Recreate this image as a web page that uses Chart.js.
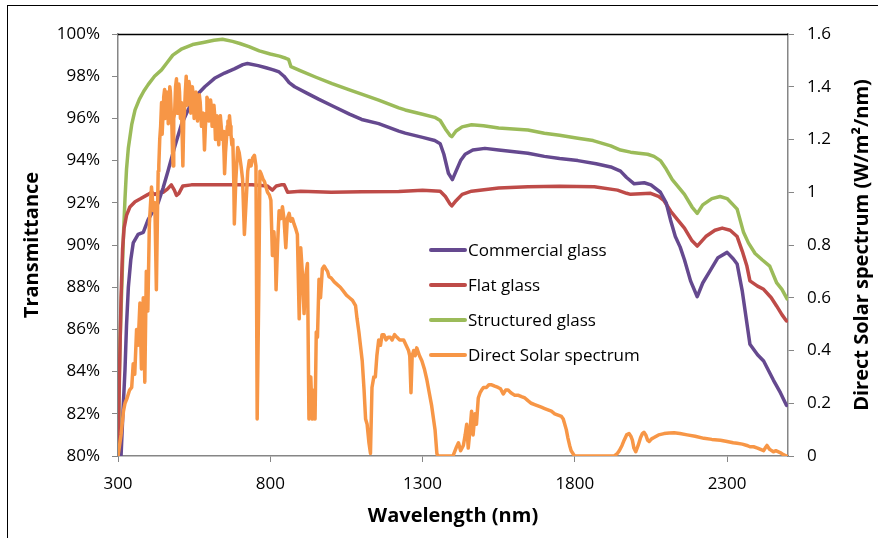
<!DOCTYPE html>
<html>
<head>
<meta charset="utf-8">
<script src="https://cdn.jsdelivr.net/npm/chart.js@4.4.0/dist/chart.umd.min.js"></script>
<style>
  html, body { margin: 0; padding: 0; background: #fff; }
</style>
</head>
<body>
<canvas id="transChart" width="878" height="538"></canvas>
<script>
// x axis tick labels (nm)
const xTicks = [300, 800, 1300, 1800, 2300];

// Commercial glass transmittance (%)
const commercialWl = [310, 316, 323, 328, 334, 342, 350, 366, 383, 399, 415, 432, 448, 464, 485, 508, 530, 552, 585, 617, 650, 682, 710, 725, 760, 786, 810, 829, 845, 862, 880, 920, 960, 1003, 1060, 1100, 1156, 1222, 1243, 1300, 1340, 1358, 1370, 1385, 1398, 1410, 1425, 1440, 1465, 1505, 1550, 1646, 1700, 1750, 1810, 1870, 1918, 1950, 1970, 1995, 2028, 2050, 2081, 2100, 2114, 2130, 2146, 2160, 2180, 2202, 2220, 2245, 2270, 2300, 2320, 2333, 2350, 2375, 2400, 2420, 2452, 2475, 2495];
const commercialT = [80, 82, 84.1, 86.2, 88.0, 89.3, 90.1, 90.5, 90.6, 91.2, 91.6, 92.0, 92.7, 93.5, 94.6, 95.7, 96.4, 97.0, 97.5, 97.9, 98.15, 98.35, 98.55, 98.6, 98.5, 98.4, 98.3, 98.2, 98.0, 97.7, 97.5, 97.2, 96.9, 96.6, 96.2, 95.95, 95.75, 95.4, 95.3, 95.1, 94.95, 94.8, 94.3, 93.4, 93.1, 93.5, 94.0, 94.3, 94.5, 94.58, 94.5, 94.35, 94.2, 94.1, 94.0, 93.85, 93.7, 93.5, 93.2, 92.9, 92.95, 92.85, 92.5, 92.0, 91.2, 90.4, 89.9, 89.3, 88.3, 87.55, 88.2, 88.8, 89.4, 89.65, 89.35, 89.1, 87.8, 85.3, 84.8, 84.5, 83.6, 83.0, 82.4];

// Flat glass transmittance (%)
const flatWl = [300, 305, 310, 315, 320, 328, 339, 356, 375, 399, 410, 421, 435, 448, 462, 475, 485, 492, 500, 513, 541, 600, 676, 740, 790, 807, 820, 835, 846, 857, 900, 1000, 1100, 1222, 1300, 1358, 1375, 1390, 1396, 1410, 1430, 1461, 1550, 1646, 1750, 1864, 1940, 1970, 1983, 2049, 2075, 2093, 2115, 2137, 2160, 2185, 2202, 2230, 2260, 2284, 2310, 2333, 2350, 2365, 2375, 2400, 2420, 2445, 2463, 2480, 2495];
const flatT = [80, 84, 87.5, 89.8, 90.8, 91.4, 91.8, 92.05, 92.2, 92.4, 92.5, 92.4, 92.5, 92.5, 92.65, 92.85, 92.6, 92.35, 92.45, 92.8, 92.85, 92.85, 92.85, 92.85, 92.8, 92.6, 92.8, 92.85, 92.85, 92.5, 92.55, 92.5, 92.52, 92.53, 92.6, 92.55, 92.3, 91.95, 91.85, 92.1, 92.4, 92.55, 92.7, 92.76, 92.78, 92.76, 92.6, 92.45, 92.4, 92.45, 92.3, 92.1, 91.6, 91.2, 90.8, 90.2, 89.95, 90.4, 90.7, 90.8, 90.7, 90.4, 89.7, 89.0, 88.3, 88.05, 87.9, 87.5, 87.1, 86.7, 86.4];

// Structured glass transmittance (%)
const structuredWl = [300, 303, 307, 312, 318, 323, 328, 334, 345, 356, 370, 385, 399, 420, 443, 459, 480, 510, 545, 580, 615, 643, 676, 700, 730, 764, 800, 830, 851, 860, 868, 900, 950, 1003, 1060, 1100, 1156, 1222, 1243, 1300, 1340, 1358, 1375, 1390, 1396, 1410, 1430, 1461, 1500, 1550, 1646, 1700, 1750, 1810, 1860, 1918, 1950, 1983, 2010, 2039, 2060, 2081, 2100, 2120, 2137, 2160, 2185, 2202, 2220, 2250, 2277, 2300, 2320, 2333, 2354, 2370, 2392, 2415, 2440, 2463, 2480, 2497];
const structuredT = [80, 83, 85.5, 87.8, 90.5, 92.2, 93.6, 94.6, 95.7, 96.4, 96.9, 97.3, 97.6, 98.0, 98.3, 98.6, 99.0, 99.3, 99.5, 99.6, 99.7, 99.75, 99.65, 99.55, 99.4, 99.2, 99.05, 98.95, 98.85, 98.8, 98.45, 98.25, 97.95, 97.65, 97.35, 97.15, 96.87, 96.5, 96.4, 96.2, 96.05, 95.9, 95.5, 95.2, 95.13, 95.4, 95.6, 95.7, 95.65, 95.55, 95.45, 95.3, 95.2, 95.06, 94.95, 94.7, 94.5, 94.4, 94.35, 94.3, 94.2, 94.0, 93.6, 93.1, 92.8, 92.4, 91.8, 91.5, 91.9, 92.2, 92.3, 92.2, 91.9, 91.7, 90.6, 90.1, 89.6, 89.3, 89.0, 88.2, 87.9, 87.45];

// Direct solar spectrum (W/m2/nm), right axis
const solarWl = [300, 310, 318, 323, 330, 338, 345, 350, 355, 361, 366, 372, 377, 383, 388, 393, 398, 403, 410, 416, 421, 426,
  430, 432, 434, 437, 440, 443, 445, 448, 450, 453, 455, 458, 460, 463, 465, 468, 470, 472, 475, 477, 479, 481, 483, 486, 489, 492, 494, 497,
  500, 502, 505, 508, 511, 513, 516, 518, 521, 524, 527, 530, 533, 536, 539, 541, 544, 547, 550, 553, 556, 558, 561, 563, 567, 570, 574, 577,
  580, 584, 587, 590, 592, 595, 598, 601, 604, 606, 609, 612, 615, 617, 620, 622, 625, 628, 631, 633, 636, 639, 642, 645, 648, 650, 653, 656,
  659, 661, 664, 666, 669, 671, 674, 677, 680, 682, 687, 693, 698, 704, 709, 715, 720, 726, 731, 737, 742, 748, 753, 757, 762, 766, 770, 776,
  781, 786, 791, 797, 802, 807, 812, 817, 819, 824, 829, 835, 840, 845, 851, 856, 862, 867, 873, 878, 884, 889, 895, 900, 905, 911, 916, 922,
  927, 933, 938, 944, 947, 951, 955, 960, 965, 971, 977, 982, 988, 993, 1000, 1010, 1020, 1030, 1040, 1050, 1060, 1070, 1080, 1085, 1091, 1096,
  1102, 1108, 1113, 1118, 1124, 1129, 1134, 1140, 1145, 1150, 1156, 1162, 1167, 1173, 1180, 1187, 1194, 1200, 1208, 1216, 1225, 1232, 1238,
  1246, 1254, 1258, 1262, 1266, 1271, 1276, 1281, 1290, 1298, 1306, 1314, 1322, 1330, 1336, 1341, 1347, 1350, 1400, 1410, 1418, 1425, 1434,
  1440, 1445, 1450, 1456, 1461, 1466, 1472, 1477, 1483, 1489, 1494, 1500, 1510, 1518, 1527, 1537, 1548, 1556, 1565, 1573, 1581, 1590, 1603,
  1615, 1625, 1636, 1646, 1657, 1668, 1679, 1690, 1701, 1712, 1723, 1734, 1745, 1756, 1762, 1766, 1772, 1777, 1783, 1788, 1799, 1929, 1940,
  1946, 1955, 1962, 1970, 1978, 1984, 1989, 1994, 2000, 2008, 2016, 2022, 2027, 2033, 2039, 2044, 2052, 2060, 2075, 2093, 2110, 2126, 2145,
  2169, 2195, 2224, 2250, 2278, 2300, 2320, 2333, 2350, 2365, 2375, 2387, 2400, 2410, 2420, 2425, 2431, 2440, 2452, 2460, 2474, 2485, 2495];
const solarVal = [0, 0.08, 0.17, 0.2, 0.22, 0.25, 0.26, 0.35, 0.31, 0.48, 0.42, 0.58, 0.33, 0.6, 0.28, 0.7, 0.55, 0.88, 1.02, 0.93, 0.96, 0.63,
  0.95, 1.08, 1.1, 1.2, 1.25, 1.34, 1.22, 1.3, 1.36, 1.39, 1.28, 1.3, 1.38, 1.36, 1.26, 1.32, 1.4, 1.38, 1.3, 1.25, 1.15, 1.1, 1.28, 1.3, 1.4, 1.43, 1.3, 1.32,
  1.41, 1.38, 1.28, 1.34, 1.2, 1.1, 1.28, 1.3, 1.38, 1.44, 1.33, 1.35, 1.42, 1.4, 1.3, 1.34, 1.4, 1.37, 1.28, 1.3, 1.38, 1.36, 1.27, 1.31, 1.37, 1.34, 1.25, 1.28,
  1.3, 1.16, 1.25, 1.3, 1.36, 1.35, 1.27, 1.31, 1.35, 1.33, 1.25, 1.28, 1.33, 1.3, 1.2, 1.25, 1.29, 1.22, 1.18, 1.28, 1.29, 1.25, 1.2, 1.23, 1.15, 1.07, 1.15, 1.2,
  1.25, 1.27, 1.22, 1.29, 1.25, 1.22, 1.18, 1.2, 1.05, 0.88, 1.05, 1.17, 1.15, 1.1, 1.05, 0.84, 0.95, 1.08, 1.12, 1.1, 1.13, 1.14, 1.1, 0.14, 0.6, 1.08, 1.07, 1.05,
  1.04, 1.02, 1.0, 0.99, 0.97, 0.76, 0.85, 0.75, 0.63, 0.8, 0.93, 0.9, 0.945, 0.9, 0.79, 0.9, 0.92, 0.89, 0.9, 0.88, 0.86, 0.84, 0.52, 0.79, 0.7, 0.54, 0.68, 0.73,
  0.14, 0.3, 0.14, 0.25, 0.14, 0.47, 0.45, 0.67, 0.6, 0.71, 0.72, 0.71, 0.7, 0.68, 0.675, 0.66, 0.65, 0.64, 0.625, 0.61, 0.6, 0.59, 0.57, 0.52, 0.47, 0.42,
  0.36, 0.25, 0.14, 0.12, 0.05, 0.01, 0.26, 0.3, 0.3, 0.38, 0.44, 0.42, 0.46, 0.46, 0.44, 0.45, 0.45, 0.44, 0.46, 0.45, 0.44, 0.44, 0.44,
  0.42, 0.4, 0.38, 0.24, 0.38, 0.4, 0.38, 0.41, 0.38, 0.36, 0.33, 0.29, 0.24, 0.19, 0.14, 0.1, 0.01, 0, 0, 0.03, 0.05, 0.02, 0.04,
  0.08, 0.12, 0.03, 0.1, 0.17, 0.08, 0.16, 0.12, 0.22, 0.24, 0.25, 0.26, 0.26, 0.27, 0.27, 0.265, 0.26, 0.255, 0.235, 0.25, 0.25, 0.24, 0.23,
  0.23, 0.225, 0.22, 0.21, 0.2, 0.195, 0.19, 0.185, 0.18, 0.175, 0.17, 0.16, 0.155, 0.15, 0.14, 0.124, 0.1, 0.07, 0.04, 0.02, 0, 0, 0.01,
  0.02, 0.04, 0.06, 0.08, 0.085, 0.075, 0.06, 0.03, 0.016, 0.04, 0.07, 0.085, 0.09, 0.08, 0.06, 0.055, 0.065, 0.07, 0.08, 0.085, 0.087, 0.088, 0.085,
  0.08, 0.075, 0.067, 0.063, 0.06, 0.055, 0.05, 0.048, 0.045, 0.04, 0.035, 0.035, 0.03, 0.025, 0.02, 0.03, 0.04, 0.025, 0.016, 0.02, 0.013, 0.005, 0];

const FONT = "'Open Sans', 'Noto Sans', sans-serif";
const AXIS_GREY = '#868686';

const toPoints = (xs, ys) => xs.map((x, i) => ({ x: x, y: ys[i] }));

// white background, outer frame, black top edge of plot, right axis title, legend
const decorPlugin = {
  id: 'decor',
  beforeDraw(chart) {
    const c = chart.ctx;
    c.save();
    c.fillStyle = '#fff';
    c.fillRect(0, 0, chart.width, chart.height);
    c.restore();
  },
  afterDraw(chart) {
    const c = chart.ctx;
    const area = chart.chartArea;
    c.save();
    // outer frame
    c.strokeStyle = '#000';
    c.lineWidth = 1;
    c.strokeRect(7.5, 5.5, chart.width + 10, chart.height + 10);
    // top border of plot area
    c.beginPath();
    c.moveTo(area.left, area.top + 0.5);
    c.lineTo(area.right, area.top + 0.5);
    c.lineWidth = 1.5;
    c.stroke();

    // right axis title, reading bottom to top
    c.translate(862, (area.top + area.bottom) / 2);
    c.rotate(-Math.PI / 2);
    c.fillStyle = '#000';
    c.font = 'bold 20px ' + FONT;
    c.textAlign = 'center';
    c.textBaseline = 'middle';
    c.fillText('Direct Solar spectrum (W/m\u00B2/nm)', 0, 0);
    c.restore();

    // legend inside the plot
    c.save();
    c.font = '17px ' + FONT;
    c.textBaseline = 'middle';
    c.fillStyle = '#000';
    chart.data.datasets.forEach((ds, i) => {
      const y = 250 + i * 35;
      c.strokeStyle = ds.borderColor;
      c.lineWidth = 4;
      c.lineCap = 'round';
      c.beginPath();
      c.moveTo(431, y);
      c.lineTo(465, y);
      c.stroke();
      c.fillText(ds.label, 468, y + 1);
    });
    c.restore();
  }
};

const ctx = document.getElementById('transChart').getContext('2d');
new Chart(ctx, {
  type: 'line',
  data: {
    datasets: [
      { label: 'Commercial glass', data: toPoints(commercialWl, commercialT), borderColor: '#65498F', yAxisID: 'y', order: 2 },
      { label: 'Flat glass', data: toPoints(flatWl, flatT), borderColor: '#BE4B48', yAxisID: 'y', order: 3 },
      { label: 'Structured glass', data: toPoints(structuredWl, structuredT), borderColor: '#9BBB59', yAxisID: 'y', order: 4 },
      { label: 'Direct Solar spectrum', data: toPoints(solarWl, solarVal), borderColor: '#F79646', yAxisID: 'y1', order: 1 }
    ]
  },
  options: {
    responsive: false,
    animation: false,
    layout: { padding: { top: 34, left: 0, right: 0, bottom: 0 } },
    elements: {
      point: { radius: 0 },
      line: { borderWidth: 3.5, tension: 0, borderJoinStyle: 'round', borderCapStyle: 'round', fill: false }
    },
    plugins: { legend: { display: false }, tooltip: { enabled: false } },
    scales: {
      x: {
        type: 'linear',
        min: 300,
        max: 2500,
        afterBuildTicks: s => { s.ticks = xTicks.map(v => ({ value: v })); },
        afterFit: s => { s.height = 82; },
        grid: { display: true, drawOnChartArea: false, drawTicks: true, tickLength: 6, color: AXIS_GREY },
        border: { display: true, color: AXIS_GREY, width: 1.5 },
        ticks: { padding: 12, color: '#000', font: { family: FONT, size: 17 }, maxRotation: 0, autoSkip: false, callback: v => String(v) },
        title: { display: true, text: 'Wavelength (nm)', color: '#000', font: { family: FONT, size: 20, weight: 'bold' }, padding: { top: 0, bottom: 10 } }
      },
      y: {
        position: 'left',
        min: 80,
        max: 100,
        afterFit: s => { s.width = 118; },
        grid: { display: true, drawOnChartArea: false, drawTicks: true, tickLength: 6, color: AXIS_GREY },
        border: { display: true, color: AXIS_GREY, width: 1.5 },
        ticks: { stepSize: 2, padding: 12, color: '#000', font: { family: FONT, size: 17 }, callback: v => v + '%' },
        title: { display: true, text: 'Transmittance', color: '#000', font: { family: FONT, size: 20, weight: 'bold' }, padding: { top: 20, bottom: 0 } }
      },
      y1: {
        position: 'right',
        min: 0,
        max: 1.6,
        afterFit: s => { s.width = 90; },
        grid: { display: true, drawOnChartArea: false, drawTicks: true, tickLength: 6, color: AXIS_GREY },
        border: { display: true, color: AXIS_GREY, width: 1.5 },
        ticks: { stepSize: 0.2, padding: 13, color: '#000', font: { family: FONT, size: 17 }, callback: v => String(parseFloat(v.toFixed(1))) }
      }
    }
  },
  plugins: [decorPlugin]
});
</script>
</body>
</html>
